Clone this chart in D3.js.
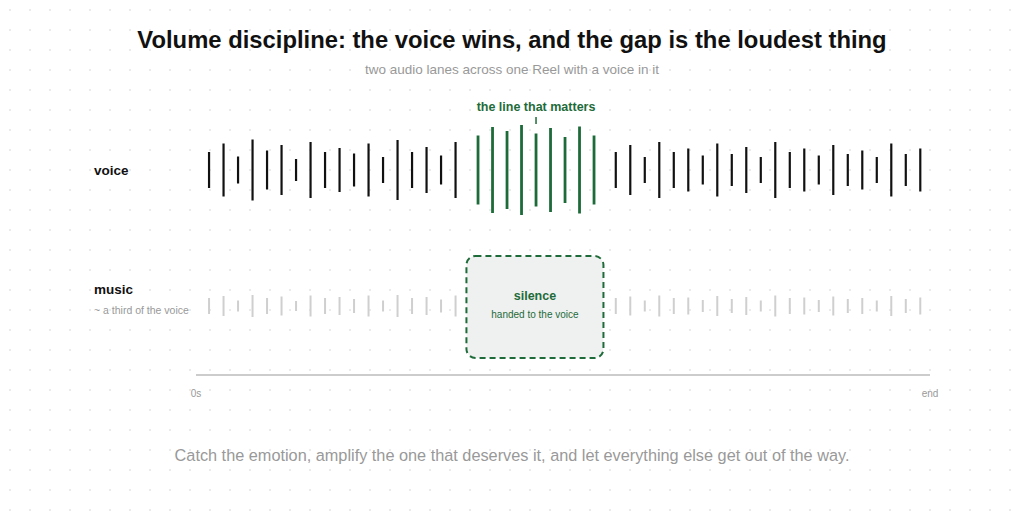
<!DOCTYPE html>
<html><head><meta charset="utf-8">
<script src="https://cdn.jsdelivr.net/npm/d3@7"></script>
<style>body{margin:0;background:#fff;font-family:"Liberation Sans",Arial,sans-serif}</style>
</head><body><svg id="c" width="1024" height="512"></svg>
<script>
// data
const leftTimes = [0,1,2,3,4,5,6,7,8,9,10,11,12,13,14,15,16,17];
const leftVoice = [36,53,27,61,39,50,22,56,36,44,33,53,26,60,36,46,29,56];
const leftMusic = [16,20,11,22,16,19,10,21,16,18,14,21,11,22,16,18,13,21];
const keyTimes = [18.55,19.55,20.55,21.55,22.55,23.55,24.55,25.55,26.55];
const keyVoice = [69,86,78,90,73,84,66,87,69];
const rightTimes = [28.05,29.05,30.05,31.05,32.05,33.05,34.05,35.05,36.05,37.05,38.05,39.05,40.05,41.05,42.05,43.05,44.05,45.05,46.05,47.05,48.05,49.05];
const rightVoice = [36,50,26,56,36,43,29,53,32,46,26,56,36,43,29,50,32,39,26,53,32,43];
const rightMusic = [16,19,11,21,16,17,12,20,14,18,11,21,16,17,12,19,14,16,11,20,14,17];
const silenceSpan = [17.75, 27.2];
const axisLabels = ["0s","end"];

const svg = d3.select("#c");
const G = "#1e6b3a";
const defs = svg.append("defs");
const pat = defs.append("pattern").attr("id","dots").attr("width",20).attr("height",20).attr("patternUnits","userSpaceOnUse");
pat.append("circle").attr("cx",10).attr("cy",10).attr("r",0.9).attr("fill","#e2e2e2");
svg.append("rect").attr("width",1024).attr("height",512).attr("fill","url(#dots)");

const x = d3.scaleLinear().domain([-0.9, 49.72]).range([196, 930]);
const amp = d3.scaleLinear().domain([0, 100]).range([0, 100]);
const voiceY = 170, musicY = 306;

svg.append("text").attr("x",512).attr("y",48).attr("text-anchor","middle").attr("font-size",23.8).attr("font-weight","bold").attr("fill","#111")
  .text("Volume discipline: the voice wins, and the gap is the loudest thing");
svg.append("text").attr("x",512).attr("y",74).attr("text-anchor","middle").attr("font-size",13.5).attr("fill","#999")
  .text("two audio lanes across one Reel with a voice in it");

function bars(times, vals, cy, color, w){
  svg.append("g").selectAll("line").data(times).join("line")
    .attr("x1",d=>x(d)).attr("x2",d=>x(d))
    .attr("y1",(d,i)=>cy-amp(vals[i])/2).attr("y2",(d,i)=>cy+amp(vals[i])/2)
    .attr("stroke",color).attr("stroke-width",w);
}
bars(leftTimes,leftVoice,voiceY,"#111",2.2);
bars(rightTimes,rightVoice,voiceY,"#111",2.2);
bars(keyTimes,keyVoice,voiceY,G,2.8);
bars(leftTimes,leftMusic,musicY,"#cfcfcf",2);
bars(rightTimes,rightMusic,musicY,"#cfcfcf",2);

const mid = x(d3.mean(keyTimes));
svg.append("text").attr("x",mid).attr("y",111).attr("text-anchor","middle").attr("font-size",12.5).attr("font-weight","bold").attr("fill",G).text("the line that matters");
svg.append("line").attr("x1",mid).attr("x2",mid).attr("y1",117).attr("y2",124).attr("stroke",G).attr("stroke-width",1.5);

svg.append("rect").attr("x",x(silenceSpan[0])).attr("y",256).attr("width",x(silenceSpan[1])-x(silenceSpan[0])).attr("height",102)
  .attr("rx",9).attr("fill","#eff1f0").attr("stroke",G).attr("stroke-width",2).attr("stroke-dasharray","6,4");
const sm = x(d3.mean(silenceSpan));
svg.append("text").attr("x",sm).attr("y",300).attr("text-anchor","middle").attr("font-size",12.5).attr("font-weight","bold").attr("fill",G).text("silence");
svg.append("text").attr("x",sm).attr("y",318).attr("text-anchor","middle").attr("font-size",10).attr("fill",G).text("handed to the voice");

svg.append("text").attr("x",94).attr("y",175).attr("font-size",13.5).attr("font-weight","bold").attr("fill","#111").text("voice");
svg.append("text").attr("x",94).attr("y",294).attr("font-size",13.5).attr("font-weight","bold").attr("fill","#111").text("music");
svg.append("text").attr("x",94).attr("y",314).attr("font-size",10.5).attr("fill","#999").text("~ a third of the voice");

svg.append("line").attr("x1",196).attr("x2",930).attr("y1",375).attr("y2",375).attr("stroke","#ccc").attr("stroke-width",2);
svg.append("g").selectAll("text").data(axisLabels).join("text")
  .attr("x",(d,i)=>i===0?196:930).attr("y",397).attr("text-anchor","middle").attr("font-size",10).attr("fill","#999").text(d=>d);

svg.append("text").attr("x",512).attr("y",461).attr("text-anchor","middle").attr("font-size",16.3).attr("fill","#999")
  .text("Catch the emotion, amplify the one that deserves it, and let everything else get out of the way.");
</script></body></html>
